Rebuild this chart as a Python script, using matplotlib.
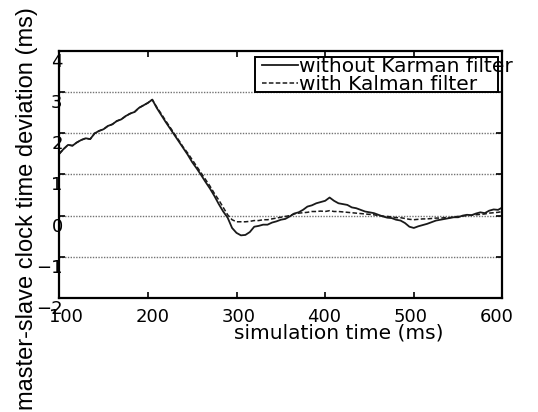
#!/usr/bin/env python3

from matplotlib import patches
from matplotlib.pyplot import close, figure, savefig
from matplotlib.transforms import ScaledTranslation

# simulation time (ms), one sample every 5 ms
time_ms = list(range(100, 605, 5))

without_kalman = [
    1.50, 1.62, 1.72, 1.70, 1.78, 1.84, 1.88, 1.86, 2.00, 2.06,
    2.10, 2.18, 2.22, 2.30, 2.34, 2.42, 2.48, 2.52, 2.62, 2.68,
    2.74, 2.82, 2.62, 2.45, 2.28, 2.12, 1.96, 1.80, 1.64, 1.48,
    1.30, 1.15, 0.99, 0.82, 0.66, 0.48, 0.28, 0.10, -0.05, -0.30,
    -0.42, -0.48, -0.47, -0.40, -0.27, -0.25, -0.22, -0.22, -0.17, -0.14,
    -0.10, -0.08, -0.02, 0.05, 0.08, 0.14, 0.22, 0.25, 0.30, 0.33,
    0.36, 0.44, 0.36, 0.30, 0.28, 0.26, 0.20, 0.18, 0.14, 0.10,
    0.08, 0.06, 0.02, -0.02, -0.05, -0.06, -0.10, -0.12, -0.18, -0.27,
    -0.30, -0.26, -0.23, -0.20, -0.16, -0.12, -0.10, -0.08, -0.06, -0.04,
    -0.04, 0.00, 0.02, 0.01, 0.05, 0.08, 0.06, 0.12, 0.15, 0.14,
    0.20,
]

with_kalman = [
    1.50, 1.62, 1.72, 1.70, 1.78, 1.84, 1.88, 1.86, 2.00, 2.06,
    2.10, 2.18, 2.22, 2.30, 2.34, 2.42, 2.48, 2.52, 2.62, 2.68,
    2.74, 2.82, 2.64, 2.48, 2.31, 2.15, 1.99, 1.83, 1.66, 1.52,
    1.36, 1.20, 1.04, 0.88, 0.72, 0.54, 0.38, 0.20, 0.02, -0.10,
    -0.15, -0.15, -0.15, -0.14, -0.12, -0.12, -0.10, -0.10, -0.08, -0.06,
    -0.04, -0.02, 0.00, 0.04, 0.06, 0.07, 0.08, 0.10, 0.10, 0.11,
    0.10, 0.12, 0.10, 0.10, 0.09, 0.08, 0.07, 0.06, 0.05, 0.04,
    0.03, 0.02, 0.00, -0.01, -0.02, -0.03, -0.05, -0.05, -0.07, -0.09,
    -0.10, -0.09, -0.08, -0.08, -0.07, -0.06, -0.06, -0.05, -0.05, -0.03,
    -0.02, -0.01, 0.00, 0.01, 0.02, 0.03, 0.04, 0.06, 0.07, 0.08,
    0.10,
]

x_ticks = [100, 200, 300, 400, 500, 600]
y_ticks = [-2, -1, 0, 1, 2, 3, 4]
labels = ["without Karman filter", "with Kalman filter"]


def main():
    fig = figure(figsize=(5.38, 4.12), dpi=100)
    ax = fig.add_axes([0.110, 0.277, 0.824, 0.599])
    ax.plot(time_ms, without_kalman, c="0.1", lw=1.3, label=labels[0])
    ax.plot(time_ms, with_kalman, c="0.1", lw=1.1, ls=(0, (3, 1.5)),
            label=labels[1])
    ax.set_xlim(100, 600)
    ax.set_ylim(-2, 4)
    ax.set_xticks(x_ticks)
    ax.set_yticks(y_ticks)
    for y in y_ticks[1:-1]:
        ax.axhline(y, c="0.45", lw=1.0, ls=(0, (1, 1)), zorder=0)
    for spine in ax.spines.values():
        spine.set_linewidth(1.6)
    ax.tick_params(direction="in", length=4, width=1.2, top=True,
                   right=True, labelsize=13)
    ax.tick_params(axis="x", pad=7)
    ax.tick_params(axis="y", pad=-2.5)
    # the reference draws its labels a little off their ticks
    shift = ScaledTranslation(0, -9 / 100, fig.dpi_scale_trans)
    for tick in ax.yaxis.get_major_ticks():
        tick.label1.set_transform(tick.label1.get_transform() + shift)
    for (i, tick) in enumerate(ax.xaxis.get_major_ticks()):
        nudge = ScaledTranslation((7 - 2.6 * i) / 100, 0,
                                  fig.dpi_scale_trans)
        tick.label1.set_transform(tick.label1.get_transform() + nudge)
    ax.set_xlabel("simulation time (ms)", fontsize=14.5)
    ax.xaxis.set_label_coords(0.631, -0.103)
    ax.set_ylabel("master-slave clock time deviation (ms)", fontsize=17,
                  family="Liberation Sans")
    ax.yaxis.set_label_coords(-0.047, 0.36)
    ax.legend(loc="upper left", bbox_to_anchor=(0.454, 0.985), frameon=False,
              fontsize=14.5, handlelength=1.75, handletextpad=0.05,
              borderpad=0.1, labelspacing=-0.05, borderaxespad=0)
    ax.add_patch(patches.Rectangle(
        (0.441, 0.834), 0.548, 0.142, transform=ax.transAxes,
        fill=False, ec="k", lw=1.4, zorder=5,
    ))
    savefig("out.png", dpi=100)
    close()


if __name__ == "__main__":
    main()
